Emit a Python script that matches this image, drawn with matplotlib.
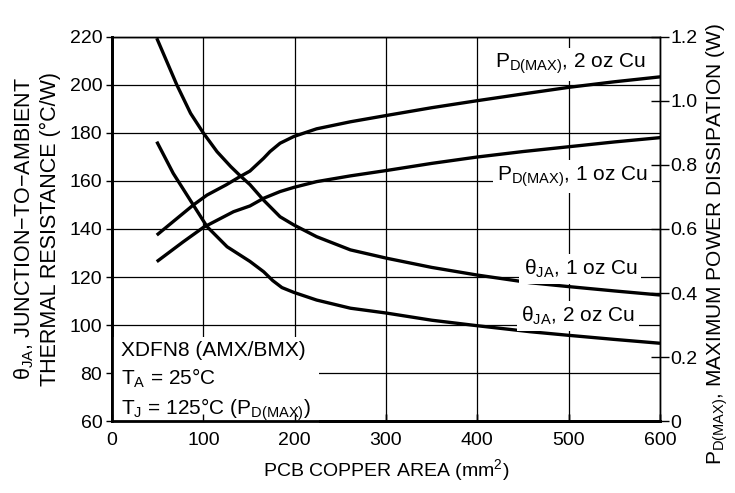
import matplotlib
matplotlib.use('Agg')
import matplotlib.pyplot as plt

plt.rcParams['font.family'] = ['Liberation Sans', 'DejaVu Sans']
plt.rcParams['mathtext.fontset'] = 'custom'
plt.rcParams['mathtext.rm'] = 'Liberation Sans'
plt.rcParams['mathtext.it'] = 'Liberation Sans'
plt.rcParams['mathtext.bf'] = 'Liberation Sans'

# theta_JA (C/W) vs PCB copper area (mm^2)
area_t1 = [49, 71, 86, 100, 115, 130, 140, 151, 166, 184, 199, 224, 261, 301, 350, 400, 458, 500, 550, 600]
theta_1oz = [219.5, 200, 188.2, 180, 172.2, 166, 162.3, 158.5, 152, 145.1, 141.7, 136.8, 131.3, 127.8, 124, 120.8, 117.6, 116, 114.2, 112.5]

area_t2 = [49, 67, 89, 104, 126, 151, 166, 176, 186, 199, 224, 261, 300, 350, 400, 458, 500, 550, 600]
theta_2oz = [176.4, 163.2, 150, 141, 132.6, 126.5, 122.2, 118.5, 115.6, 113.6, 110.4, 107, 105, 102, 99.7, 97.2, 95.7, 94, 92.4]

# P_D(MAX) (W) vs PCB copper area (mm^2)
area_p2 = [49, 89, 104, 125, 140, 151, 166, 173, 184, 199, 224, 261, 301, 350, 400, 450, 501, 550, 602]
pd_2oz = [0.581, 0.675, 0.706, 0.738, 0.7635, 0.781, 0.821, 0.842, 0.868, 0.889, 0.913, 0.935, 0.955, 0.979, 1.001, 1.022, 1.043, 1.060, 1.076]

area_p1 = [49, 78, 100, 133, 151, 166, 184, 199, 224, 261, 301, 350, 400, 450, 500, 550, 602]
pd_1oz = [0.498, 0.560, 0.605, 0.654, 0.672, 0.696, 0.717, 0.730, 0.748, 0.766, 0.783, 0.805, 0.825, 0.842, 0.857, 0.872, 0.886]

fig = plt.figure(figsize=(7.35, 4.93), dpi=100)
ax = fig.add_axes([0.1524, 0.146, 0.898 - 0.1524, 0.925 - 0.146])
ax2 = ax.twinx()

ax.plot(area_t1, theta_1oz, color='black', lw=2.4, solid_capstyle='butt')
ax.plot(area_t2, theta_2oz, color='black', lw=2.4, solid_capstyle='butt')
ax2.plot(area_p2, pd_2oz, color='black', lw=2.4, solid_capstyle='butt', zorder=4)
ax2.plot(area_p1, pd_1oz, color='black', lw=2.4, solid_capstyle='butt', zorder=4)

ax.set_xlim(0, 600)
ax.set_ylim(60, 220)
ax2.set_ylim(0, 1.2)
ax.set_xticks(range(0, 601, 100))
ax.set_yticks(range(60, 221, 20))
ax2.set_yticks([0, 0.2, 0.4, 0.6, 0.8, 1.0, 1.2])
ax2.set_yticklabels(['0', '0.2', '0.4', '0.6', '0.8', '1.0', '1.2'])
ax.grid(True, color='black', lw=0.9)

for a in (ax, ax2):
    for s in a.spines.values():
        s.set_linewidth(1.0)
    a.spines['left'].set_linewidth(2)
    a.spines['bottom'].set_linewidth(2)

ax.tick_params(axis='x', direction='in', length=5, width=1, labelsize=14, pad=8)
ax.tick_params(axis='y', direction='out', length=4, width=1, labelsize=14, pad=3)
ax2.tick_params(axis='y', direction='inout', length=13, width=1, labelsize=14, pad=1)
# ticks at the bottom drawn on top of the white note box
ax2.xaxis.set_visible(True)
ax2.tick_params(axis='x', direction='in', length=5, width=1, labelbottom=False)

ax.set_xlabel('PCB COPPER AREA (mm$^{2}$)', fontsize=14, labelpad=6)
ax.set_ylabel('θ$_{\\rm JA}$, JUNCTION\u2212TO\u2212AMBIENT\nTHERMAL RESISTANCE (°C/W)',
              fontsize=15.5, labelpad=6, linespacing=1.25)
ax2.set_ylabel('P$_{\\rm D(MAX)}$, MAXIMUM POWER DISSIPATION (W)', fontsize=15)
ax2.yaxis.set_label_coords(1.082, 0.46)

box = dict(facecolor='white', edgecolor='none', pad=3)
ax2.text(584, 1.115, 'P$_{\\rm D(MAX)}$, 2 oz Cu', ha='right', va='center', fontsize=15, bbox=box, zorder=1.2)
ax2.text(587, 0.763, 'P$_{\\rm D(MAX)}$, 1 oz Cu', ha='right', va='center', fontsize=15, bbox=box, zorder=1.2)
ax2.text(575, 0.475, 'θ$_{\\rm JA}$, 1 oz Cu', ha='right', va='center', fontsize=15, bbox=box, zorder=1.2)
ax2.text(572, 0.328, 'θ$_{\\rm JA}$, 2 oz Cu', ha='right', va='center', fontsize=15, bbox=box, zorder=1.2)
ax2.text(10, -0.005, 'XDFN8 (AMX/BMX)\nT$_{\\rm A}$ = 25°C\nT$_{\\rm J}$ = 125°C (P$_{\\rm D(MAX)}$)',
         ha='left', va='bottom', fontsize=15, linespacing=1.35,
         bbox=dict(facecolor='white', edgecolor='none', pad=6), zorder=1.2)

fig.savefig('out.png', dpi=100)
